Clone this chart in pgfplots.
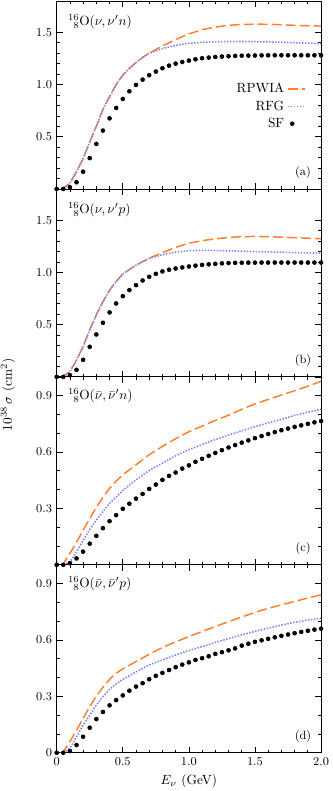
\documentclass[border=0pt]{standalone}
\usepackage{pgfplots}
\pgfplotsset{compat=1.18}
\usepgfplotslibrary{groupplots}
\definecolor{rpwia}{RGB}{255,127,42}
\definecolor{rfg}{RGB}{125,125,255}
\pgfplotsset{
  rpwiastyle/.style={color=rpwia, line width=1.1pt, dash pattern=on 7.5pt off 3pt, no marks,
    legend image code/.code={\draw[##1] (0pt,0pt) -- (13pt,0pt);}},
  rfgstyle/.style={color=rfg, line width=1.15pt, dash pattern=on 1.1pt off 1.15pt, no marks,
    legend image code/.code={\draw[##1] (0pt,0pt) -- (13pt,0pt);}},
  sfstyle/.style={only marks, mark=*, mark size=1.5pt, color=black,
    legend image code/.code={\draw[##1] plot coordinates {(3.5pt,0pt)};}},
}
\begin{document}
\begin{tikzpicture}
\begin{groupplot}[
  group style={group size=1 by 4, vertical sep=0pt},
  width=198.2pt, height=140.9pt, scale only axis,
  xmin=0, xmax=2,
  xtick={0,0.5,1,1.5,2}, minor x tick num=4,
  xticklabels={},
  tick align=inside,
  major tick length=4.5pt, minor tick length=2.3pt,
  tick style={black, line width=0.5pt},
  axis line style={line width=0.6pt},
  ticklabel style={font=\small},
  clip=false,
]
% ---------------- (a)
\nextgroupplot[ymin=0, ymax=1.8, ytick={0,0.5,1.0,1.5}, yticklabels={{},0.5,1.0,1.5}, minor y tick num=4,
  legend style={draw=none, fill=none, at={(rel axis cs:0.958,0.593)}, anchor=north east, font=\normalsize, row sep=0.5pt},
  legend cell align=right, legend plot pos=right]
\addplot[rpwiastyle] coordinates {(0.03,0) (0.05,0.01) (0.1,0.054) (0.15,0.166) (0.2,0.29) (0.25,0.45) (0.3,0.60) (0.35,0.76) (0.4,0.885) (0.45,1.0) (0.5,1.09) (0.55,1.155) (0.6,1.21) (0.65,1.26) (0.7,1.30) (0.8,1.37) (0.9,1.43) (1.0,1.485) (1.1,1.525) (1.2,1.55) (1.3,1.567) (1.4,1.575) (1.5,1.578) (1.6,1.577) (1.7,1.572) (1.8,1.567) (1.9,1.563) (2.0,1.56)};
\addplot[rfgstyle] coordinates {(0.05,0) (0.1,0.054) (0.15,0.166) (0.2,0.29) (0.25,0.45) (0.3,0.60) (0.35,0.76) (0.4,0.885) (0.45,1.0) (0.5,1.09) (0.55,1.155) (0.6,1.21) (0.65,1.26) (0.7,1.30) (0.8,1.345) (0.9,1.375) (1.0,1.395) (1.1,1.405) (1.2,1.41) (1.3,1.412) (1.4,1.412) (1.5,1.41) (1.6,1.408) (1.7,1.405) (1.8,1.40) (1.9,1.396) (2.0,1.392)};
\addplot[sfstyle] coordinates {(0,0) (0.05,0) (0.1,0.016) (0.15,0.064) (0.2,0.165) (0.25,0.295) (0.3,0.431) (0.35,0.559) (0.4,0.676) (0.45,0.776) (0.5,0.862) (0.55,0.935) (0.6,0.996) (0.65,1.047) (0.7,1.089) (0.75,1.124) (0.8,1.156) (0.85,1.181) (0.9,1.200) (0.95,1.216) (1.0,1.229) (1.05,1.242) (1.1,1.252) (1.15,1.258) (1.2,1.264) (1.25,1.268) (1.3,1.271) (1.35,1.274) (1.4,1.276) (1.45,1.277) (1.5,1.278) (1.55,1.279) (1.6,1.28) (1.65,1.28) (1.7,1.28) (1.75,1.28) (1.8,1.28) (1.85,1.28) (1.9,1.28) (1.95,1.28) (2.0,1.28)};
\legend{RPWIA, RFG, SF}
\node[anchor=west] at (rel axis cs:0.025,0.89) {${}^{16}_{\phantom{1}8}\mathrm{O}(\nu,\nu' n)$};
\node at (rel axis cs:0.932,0.085) {\small (a)};
% ---------------- (b)
\nextgroupplot[ymin=0, ymax=1.8, ytick={0,0.5,1.0,1.5}, yticklabels={{},0.5,1.0,1.5}, minor y tick num=4]
\addplot[rpwiastyle] coordinates {(0.03,0) (0.05,0.01) (0.1,0.05) (0.15,0.16) (0.2,0.29) (0.25,0.45) (0.3,0.594) (0.35,0.72) (0.4,0.83) (0.45,0.915) (0.5,0.985) (0.6,1.07) (0.7,1.137) (0.8,1.19) (0.9,1.24) (1.0,1.28) (1.1,1.305) (1.2,1.322) (1.3,1.335) (1.4,1.343) (1.5,1.345) (1.6,1.343) (1.7,1.338) (1.8,1.333) (1.9,1.328) (2.0,1.323)};
\addplot[rfgstyle] coordinates {(0.05,0) (0.1,0.05) (0.15,0.16) (0.2,0.29) (0.25,0.45) (0.3,0.594) (0.35,0.72) (0.4,0.83) (0.45,0.915) (0.5,0.985) (0.6,1.07) (0.7,1.135) (0.8,1.17) (0.9,1.195) (1.0,1.208) (1.1,1.212) (1.2,1.21) (1.3,1.207) (1.4,1.204) (1.5,1.20) (1.6,1.197) (1.7,1.194) (1.8,1.19) (1.9,1.187) (2.0,1.185)};
\addplot[sfstyle] coordinates {(0,0) (0.05,0) (0.1,0.016) (0.15,0.067) (0.2,0.163) (0.25,0.288) (0.3,0.406) (0.35,0.518) (0.4,0.617) (0.45,0.703) (0.5,0.773) (0.55,0.831) (0.6,0.879) (0.65,0.923) (0.7,0.958) (0.75,0.987) (0.8,1.01) (0.85,1.026) (0.9,1.038) (0.95,1.048) (1.0,1.057) (1.05,1.065) (1.1,1.072) (1.15,1.078) (1.2,1.083) (1.25,1.087) (1.3,1.09) (1.35,1.092) (1.4,1.093) (1.45,1.094) (1.5,1.094) (1.55,1.095) (1.6,1.095) (1.65,1.095) (1.7,1.095) (1.75,1.095) (1.8,1.095) (1.85,1.095) (1.9,1.095) (1.95,1.095) (2.0,1.095)};
\node[anchor=west] at (rel axis cs:0.025,0.89) {${}^{16}_{\phantom{1}8}\mathrm{O}(\nu,\nu' p)$};
\node at (rel axis cs:0.932,0.085) {\small (b)};
% ---------------- (c)
\nextgroupplot[ymin=0, ymax=1.0, ytick={0,0.3,0.6,0.9}, yticklabels={{},0.3,0.6,0.9}, minor y tick num=2]
\addplot[rpwiastyle] coordinates {(0.03,0) (0.05,0.005) (0.1,0.06) (0.15,0.12) (0.2,0.184) (0.25,0.246) (0.3,0.305) (0.35,0.359) (0.4,0.407) (0.45,0.445) (0.5,0.479) (0.6,0.532) (0.7,0.586) (0.8,0.63) (0.9,0.671) (1.0,0.708) (1.1,0.738) (1.2,0.768) (1.3,0.796) (1.4,0.827) (1.5,0.856) (1.6,0.88) (1.7,0.903) (1.8,0.926) (1.9,0.95) (2.0,0.976)};
\addplot[rfgstyle] coordinates {(0.05,0) (0.1,0.014) (0.15,0.068) (0.2,0.13) (0.25,0.1875) (0.3,0.2375) (0.35,0.284) (0.4,0.327) (0.5,0.395) (0.6,0.452) (0.7,0.502) (0.8,0.541) (0.9,0.58) (1.0,0.6125) (1.1,0.64) (1.2,0.666) (1.3,0.69) (1.4,0.713) (1.5,0.735) (1.6,0.755) (1.7,0.774) (1.8,0.795) (1.9,0.812) (2.0,0.828)};
\addplot[sfstyle] coordinates {(0,0) (0.05,0) (0.1,0.009) (0.15,0.034) (0.2,0.07) (0.25,0.1125) (0.3,0.154) (0.35,0.195) (0.4,0.232) (0.45,0.264) (0.5,0.298) (0.55,0.325) (0.6,0.352) (0.65,0.377) (0.7,0.404) (0.75,0.427) (0.8,0.452) (0.85,0.473) (0.9,0.491) (0.95,0.512) (1.0,0.529) (1.05,0.548) (1.1,0.564) (1.15,0.58) (1.2,0.595) (1.25,0.61) (1.3,0.624) (1.35,0.637) (1.4,0.65) (1.45,0.662) (1.5,0.674) (1.55,0.685) (1.6,0.696) (1.65,0.706) (1.7,0.716) (1.75,0.725) (1.8,0.734) (1.85,0.742) (1.9,0.75) (1.95,0.758) (2.0,0.765)};
\node[anchor=west] at (rel axis cs:0.025,0.9) {${}^{16}_{\phantom{1}8}\mathrm{O}(\bar{\nu},\bar{\nu}' n)$};
\node at (rel axis cs:0.932,0.085) {\small (c)};
\node[rotate=90] at (rel axis cs:-0.184,0.904) {$10^{38}\,\sigma$ (cm$^2$)};
% ---------------- (d)
\nextgroupplot[ymin=0, ymax=1.0, ytick={0,0.3,0.6,0.9}, yticklabels={0,0.3,0.6,0.9}, minor y tick num=2,
  xticklabels={0,0.5,1.0,1.5,2.0}, xlabel={$E_\nu$ (GeV)}]
\addplot[rpwiastyle] coordinates {(0.03,0) (0.05,0.005) (0.1,0.059) (0.15,0.12) (0.2,0.183) (0.25,0.245) (0.3,0.302) (0.35,0.348) (0.4,0.39) (0.45,0.423) (0.5,0.446) (0.6,0.485) (0.7,0.524) (0.8,0.56) (0.9,0.59) (1.0,0.618) (1.1,0.645) (1.2,0.672) (1.3,0.697) (1.4,0.722) (1.5,0.747) (1.6,0.768) (1.7,0.787) (1.8,0.805) (1.9,0.823) (2.0,0.84)};
\addplot[rfgstyle] coordinates {(0.05,0) (0.1,0.023) (0.15,0.085) (0.2,0.147) (0.25,0.20) (0.3,0.254) (0.35,0.298) (0.4,0.337) (0.45,0.366) (0.5,0.39) (0.6,0.43) (0.7,0.467) (0.8,0.494) (0.9,0.52) (1.0,0.5435) (1.1,0.565) (1.2,0.587) (1.3,0.607) (1.4,0.627) (1.5,0.646) (1.6,0.663) (1.7,0.679) (1.8,0.694) (1.9,0.706) (2.0,0.716)};
\addplot[sfstyle] coordinates {(0,0) (0.05,0) (0.1,0.009) (0.15,0.041) (0.2,0.085) (0.25,0.133) (0.3,0.179) (0.35,0.217) (0.4,0.252) (0.45,0.28) (0.5,0.305) (0.55,0.33) (0.6,0.352) (0.65,0.37) (0.7,0.391) (0.75,0.409) (0.8,0.425) (0.85,0.44) (0.9,0.455) (0.95,0.469) (1.0,0.481) (1.05,0.494) (1.1,0.503) (1.15,0.513) (1.2,0.526) (1.25,0.535) (1.3,0.545) (1.35,0.555) (1.4,0.57) (1.45,0.58) (1.5,0.59) (1.55,0.598) (1.6,0.606) (1.65,0.614) (1.7,0.622) (1.75,0.629) (1.8,0.636) (1.85,0.643) (1.9,0.649) (1.95,0.655) (2.0,0.66)};
\node[anchor=west] at (rel axis cs:0.025,0.9) {${}^{16}_{\phantom{1}8}\mathrm{O}(\bar{\nu},\bar{\nu}' p)$};
\node at (rel axis cs:0.932,0.085) {\small (d)};
\end{groupplot}
\pgfresetboundingbox
\path ([xshift=-42.5pt,yshift=0.75pt]group c1r1.north west) rectangle ([xshift=8.25pt,yshift=-28.7pt]group c1r4.south east);
\end{tikzpicture}
\end{document}
